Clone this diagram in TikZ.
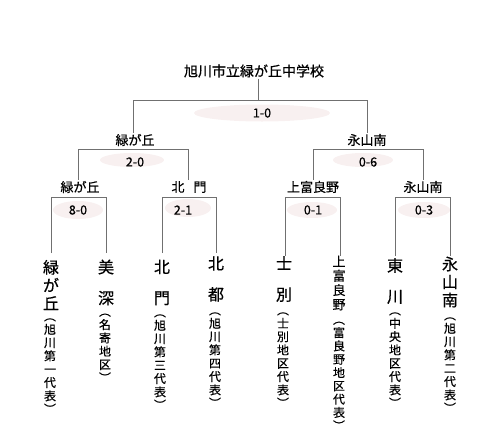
\documentclass[tikz,border=0pt]{standalone}
\usepackage{fontspec}
\setmainfont{Noto Sans CJK JP}[FakeBold=0.6]
\newfontfamily\lightcjk{Noto Sans CJK JP}[FakeBold=0.3]
\definecolor{ln}{RGB}{112,112,112}
\definecolor{blob}{RGB}{248,240,240}
\tikzset{
  ttl/.style={inner sep=1pt, font=\fontsize{14}{16}\selectfont},
  lbl/.style={inner sep=1pt, font=\fontsize{13}{15}\selectfont},
  score/.style={inner sep=1pt, font=\fontsize{12.5}{15}\selectfont},
  nm/.style={inner sep=0pt, align=center, font=\fontsize{16}{18}\selectfont},
  nms/.style={inner sep=0pt, align=center, font=\fontsize{13}{14.3}\selectfont},
  sub/.style={inner sep=0pt, align=center, font=\lightcjk\fontsize{12}{13.3}\selectfont},
  br/.style={draw=ln, line width=0.8pt},
  bl/.style={fill=blob, draw=none}
}
\begin{document}
\begin{tikzpicture}[x=1pt,y=-1pt]
\useasboundingbox (0,0) rectangle (500,434);
% pink blobs
\fill[blob] (262,113) ellipse [x radius=68, y radius=8.5];
\fill[blob] (132,160) ellipse [x radius=32, y radius=7];
\fill[blob] (363,160) ellipse [x radius=30, y radius=7];
\fill[blob] (78,210) ellipse [x radius=25, y radius=9];
\fill[blob] (188,208) ellipse [x radius=23, y radius=9];
\fill[blob] (312,210) ellipse [x radius=25, y radius=8];
\fill[blob] (424,210) ellipse [x radius=26, y radius=8];

% title and labels
\node[ttl] (title) at (254,71) {旭川市立緑が丘中学校};
\node[lbl] (lA) at (135,140) {緑が丘};
\node[lbl] (lB) at (367,140) {永山南};
\node[lbl] (lC) at (80,187) {緑が丘};
\node[lbl] (lD) at (189,187) {北\hspace{9pt}門};
\node[lbl] (lE) at (313,187) {上富良野};
\node[lbl] (lF) at (423,187) {永山南};

% scores
\node[score] (s1) at (262,113) {1-0};
\node[score] (s2) at (135,162) {2-0};
\node[score] (s3) at (368,162) {0-6};
\node[score] (s4) at (78,210) {8-0};
\node[score] (s5) at (183,210) {2-1};
\node[score] (s6) at (313,210) {0-1};
\node[score] (s7) at (424,210) {0-3};

% bracket corners
\coordinate (t0) at (258,100);
\coordinate (a1) at (133,100);
\coordinate (a2) at (367,100);
\coordinate (b1) at (78,149);
\coordinate (b2) at (188,149);
\coordinate (b3) at (313,149);
\coordinate (b4) at (423,149);
\coordinate (c1) at (51,197);
\coordinate (c2) at (106,197);
\coordinate (c3) at (162,197);
\coordinate (c4) at (216,197);
\coordinate (c5) at (285,197);
\coordinate (c6) at (340,197);
\coordinate (c7) at (395,197);
\coordinate (c8) at (450,197);
\coordinate (d1) at (51,253);
\coordinate (d2) at (106,253);
\coordinate (d3) at (162,253);
\coordinate (d4) at (216,253);
\coordinate (d5) at (285,256);
\coordinate (d6) at (340,256);
\coordinate (d7) at (395,256);
\coordinate (d8) at (450,256);

\draw[br] (t0 |- title.south) -- (t0);
\draw[br] (a1 |- lA.north) -- (a1) -- (a2) -- (a2 |- lB.north);
\draw[br] (b1 |- lC.north) -- (b1) -- (b2) -- (b2 |- lD.north);
\draw[br] (b3 |- lE.north) -- (b3) -- (b4) -- (b4 |- lF.north);
\draw[br] (d1) -- (c1) -- (c2) -- (d2);
\draw[br] (d3) -- (c3) -- (c4) -- (d4);
\draw[br] (d5) -- (c5) -- (c6) -- (d6);
\draw[br] (d7) -- (c7) -- (c8) -- (d8);

% leaf names
\node[nm] (n1) at (51,285) {緑\\が\\丘};
\node[nm] (n2) at (106,282.5) {美\\[13pt]深};
\node[nm] (n3) at (162,282.5) {北\\[13pt]門};
\node[nm] (n4) at (216,279) {北\\[13pt]都};
\node[nm] (n5) at (284,279) {士\\[13pt]別};
\node[nms] (n6) at (339,283) {上\\富\\良\\野};
\node[nm] (n7) at (395,281) {東\\[13pt]川};
\node[nm] (n8) at (450,282) {永\\山\\南};

% subtitles
\node[sub] (p1) at (50,366) {︵\\旭\\川\\第\\一\\代\\表\\︶};
\node[sub] (p2) at (105,348) {︵\\名\\寄\\地\\区\\︶};
\node[sub] (p3) at (160,362) {︵\\旭\\川\\第\\三\\代\\表\\︶};
\node[sub] (p4) at (215,360) {︵\\旭\\川\\第\\四\\代\\表\\︶};
\node[sub] (p5) at (283,360) {︵\\士\\別\\地\\区\\代\\表\\︶};
\node[sub] (p6) at (339,376) {︵\\富\\良\\野\\地\\区\\代\\表\\︶};
\node[sub] (p7) at (395,360) {︵\\中\\央\\地\\区\\代\\表\\︶};
\node[sub] (p8) at (450,365) {︵\\旭\\川\\第\\二\\代\\表\\︶};
\end{tikzpicture}
\end{document}
